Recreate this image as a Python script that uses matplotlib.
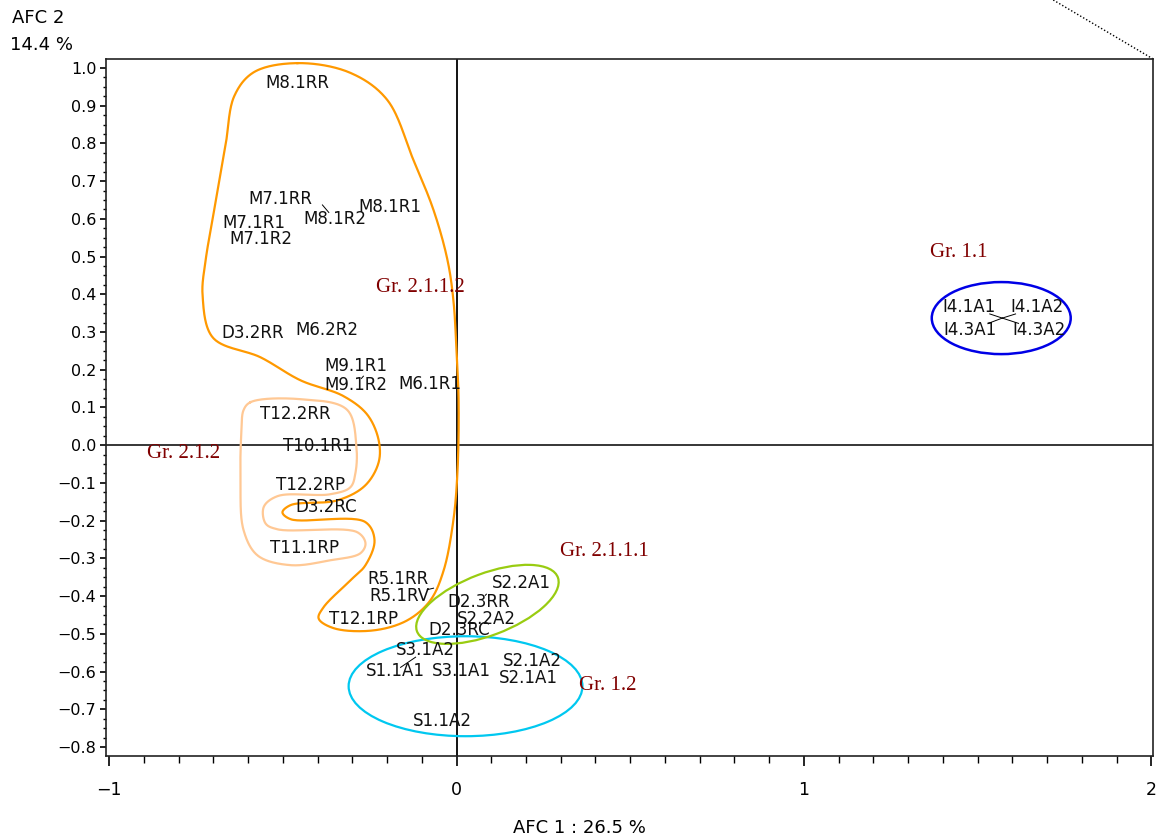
import numpy as np
import matplotlib.pyplot as plt
from matplotlib.patches import Ellipse
from matplotlib.ticker import MultipleLocator, FixedLocator, FixedFormatter

# coordonnees des modalites sur les axes 1 et 2 de l'AFC (position des etiquettes)
noms = ["M8.1RR", "M7.1RR", "M8.1R1", "M8.1R2", "M7.1R1", "M7.1R2",
        "D3.2RR", "M6.2R2", "M9.1R1", "M9.1R2", "M6.1R1",
        "T12.2RR", "T10.1R1", "T12.2RP", "D3.2RC", "T11.1RP",
        "R5.1RR", "R5.1RV", "T12.1RP",
        "S2.2A1", "D2.3RR", "S2.2A2", "D2.3RC",
        "S3.1A2", "S1.1A1", "S3.1A1", "S2.1A2", "S2.1A1", "S1.1A2",
        "I4.1A1", "I4.1A2", "I4.3A1", "I4.3A2"]
axe1 = [-0.457, -0.506, -0.193, -0.351, -0.584, -0.564,
        -0.587, -0.374, -0.291, -0.291, -0.078,
        -0.463, -0.400, -0.420, -0.374, -0.437,
        -0.167, -0.164, -0.268,
        0.187, 0.063, 0.086, 0.009,
        -0.089, -0.176, 0.014, 0.219, 0.207, -0.040,
        1.476, 1.672, 1.479, 1.678]
axe2 = [0.960, 0.652, 0.631, 0.599, 0.588, 0.547,
        0.297, 0.305, 0.210, 0.159, 0.162,
        0.082, -0.003, -0.106, -0.164, -0.273,
        -0.355, -0.401, -0.462,
        -0.366, -0.416, -0.462, -0.491,
        -0.544, -0.599, -0.599, -0.573, -0.618, -0.732,
        0.366, 0.366, 0.305, 0.305]

# points deplaces par le placement des etiquettes : vraie position du point
points_reels = {"I4.1A1": (1.571, 0.337), "I4.1A2": (1.571, 0.337),
                "I4.3A1": (1.571, 0.337), "I4.3A2": (1.571, 0.337),
                "S3.1A2": (-0.161, -0.589), "M8.1R2": (-0.386, 0.637),
                "M9.1R2": (-0.268, 0.183), "R5.1RV": (-0.066, -0.379),
                "D2.3RR": (0.086, -0.395), "S2.1A2": (0.161, -0.589)}

# groupes de la classification
groupes = ["Gr. 1.1", "Gr. 2.1.1.2", "Gr. 2.1.2", "Gr. 2.1.1.1", "Gr. 1.2"]
groupes_x = [1.445, -0.104, -0.786, 0.426, 0.435]
groupes_y = [0.512, 0.419, -0.021, -0.281, -0.637]

# contours traces a main levee (Gr. 2.1.1.2 et Gr. 2.1.2)
contour_orange_x = [-0.458, -0.305, -0.199, -0.124, -0.066, -0.026, -0.009, 0.000, 0.006,
                    0.003, -0.009, -0.037, -0.075, -0.141, -0.239, -0.354, -0.397, -0.383,
                    -0.305, -0.262, -0.236, -0.262, -0.478, -0.501, -0.478, -0.342, -0.262,
                    -0.224, -0.224, -0.256, -0.325, -0.449, -0.564, -0.702, -0.731, -0.722,
                    -0.702, -0.682, -0.664, -0.640, -0.585]
contour_orange_y = [1.013, 0.987, 0.915, 0.756, 0.623, 0.491, 0.385, 0.252, 0.119,
                    -0.066, -0.199, -0.332, -0.411, -0.464, -0.491, -0.485, -0.459, -0.430,
                    -0.358, -0.318, -0.252, -0.204, -0.196, -0.178, -0.159, -0.146, -0.106,
                    -0.045, 0.013, 0.080, 0.130, 0.172, 0.233, 0.286, 0.398, 0.491,
                    0.600, 0.705, 0.800, 0.925, 0.988]
contour_peche_x = [-0.593, -0.449, -0.314, -0.288, -0.291, -0.305, -0.363, -0.515, -0.555,
                   -0.550, -0.515, -0.285, -0.262, -0.276, -0.363, -0.478, -0.573, -0.613,
                   -0.622, -0.619, -0.613]
contour_peche_y = [0.114, 0.122, 0.093, -0.005, -0.074, -0.111, -0.130, -0.135, -0.164,
                   -0.207, -0.223, -0.231, -0.260, -0.286, -0.305, -0.318, -0.292, -0.225,
                   -0.093, 0.040, 0.093]


def lisse_ferme(xs, ys, n=30, alpha=0.5):
    # spline de Catmull-Rom centripete, fermee, passant par les sommets
    p = np.column_stack([xs, ys])
    k = len(p)
    res = []
    for i in range(k):
        p0, p1, p2, p3 = p[i - 1], p[i], p[(i + 1) % k], p[(i + 2) % k]
        t0 = 0.0
        t1 = t0 + np.linalg.norm(p1 - p0) ** alpha
        t2 = t1 + np.linalg.norm(p2 - p1) ** alpha
        t3 = t2 + np.linalg.norm(p3 - p2) ** alpha
        t = np.linspace(t1, t2, n, endpoint=False)[:, None]
        a1 = (t1 - t) / (t1 - t0) * p0 + (t - t0) / (t1 - t0) * p1
        a2 = (t2 - t) / (t2 - t1) * p1 + (t - t1) / (t2 - t1) * p2
        a3 = (t3 - t) / (t3 - t2) * p2 + (t - t2) / (t3 - t2) * p3
        b1 = (t2 - t) / (t2 - t0) * a1 + (t - t0) / (t2 - t0) * a2
        b2 = (t3 - t) / (t3 - t1) * a2 + (t - t1) / (t3 - t1) * a3
        res.append((t2 - t) / (t2 - t1) * b1 + (t - t1) / (t2 - t1) * b2)
    res = np.vstack(res + [res[0][:1]])
    return res[:, 0], res[:, 1]


fig = plt.figure(figsize=(11.62, 8.4), dpi=100)
ax = fig.add_axes([0.0912, 0.1, 0.9011, 0.8298])
ax.set_xlim(-1.009, 2.005)
ax.set_ylim(-0.824, 1.024)

ax.axhline(0, color="black", lw=1.1, zorder=1)
ax.axvline(0, color="black", lw=1.3, zorder=1)

# contours des groupes
cx, cy = lisse_ferme(contour_orange_x, contour_orange_y)
ax.plot(cx, cy, color="#ff9900", lw=1.6, zorder=2)
cx, cy = lisse_ferme(contour_peche_x, contour_peche_y)
ax.plot(cx, cy, color="#ffc894", lw=1.6, zorder=2)
ax.add_patch(Ellipse((1.568, 0.337), 0.40, 0.191, fill=False, ec="#0000e6", lw=1.8, zorder=2))
ax.add_patch(Ellipse((0.026, -0.639), 0.673, 0.265, fill=False, ec="#00c8f0", lw=1.6, zorder=2))
ax.add_patch(Ellipse((0.089, -0.422), 0.43, 0.165, angle=19, fill=False, ec="#99cc11",
                     lw=1.6, zorder=2))

# etiquettes des modalites
for nom, x, y in zip(noms, axe1, axe2):
    ax.text(x, y, nom, ha="center", va="center", fontsize=12,
            family="DejaVu Sans", color="#111111", zorder=3)
    if nom in points_reels:
        px, py = points_reels[nom]
        dx, dy = px - x, py - y
        w = 0.016 * len(nom)
        h = 0.018
        t = max(abs(dx) / w, abs(dy) / h)
        if t > 1:
            ax.plot([x + dx / t, px], [y + dy / t, py], color="black", lw=0.7, zorder=3)

for g, x, y in zip(groupes, groupes_x, groupes_y):
    ax.text(x, y, g, ha="center", va="center", fontsize=15, family="Liberation Serif",
            color="#800000", zorder=3)

# trait pointille hors du cadre, en haut a droite
ax.plot([2.005, 1.70], [1.024, 1.19], color="black", lw=1.0, ls=(0, (1, 1.5)),
        clip_on=False)

# graduations
ax.xaxis.set_major_locator(FixedLocator([-1, 0, 1, 2]))
ax.xaxis.set_major_formatter(FixedFormatter(["\u22121", "0", "1", "2"]))
ax.xaxis.set_minor_locator(MultipleLocator(0.1))
yt = np.round(np.arange(-0.8, 1.01, 0.1), 1)
ax.yaxis.set_major_locator(FixedLocator(yt))
ax.yaxis.set_major_formatter(FixedFormatter(
    [("\u2212%.1f" % -v) if v < -1e-9 else "%.1f" % abs(v) for v in yt]))
ax.yaxis.set_minor_locator(MultipleLocator(0.025))
ax.tick_params(axis="x", which="major", direction="out", length=7, width=1.2, pad=11,
               labelsize=12.5)
ax.tick_params(axis="x", which="minor", direction="out", length=5, width=1.0)
ax.tick_params(axis="y", which="major", direction="out", length=4, width=1.2, pad=3,
               labelsize=11.5)
ax.tick_params(axis="y", which="minor", direction="out", length=2.2, width=1.0)
for lab in ax.get_xticklabels() + ax.get_yticklabels():
    lab.set_family("DejaVu Sans")
for s in ax.spines.values():
    s.set_linewidth(1.2)
    s.set_color("#222222")

fig.text(0.0103, 0.979, "AFC 2", fontsize=13, family="DejaVu Sans", va="center")
fig.text(0.0086, 0.946, "14.4 %", fontsize=13, family="DejaVu Sans", va="center")
fig.text(0.499, 0.014, "AFC 1 : 26.5 %", fontsize=13, family="DejaVu Sans",
         ha="center", va="center")

fig.savefig("out.png", dpi=100)
